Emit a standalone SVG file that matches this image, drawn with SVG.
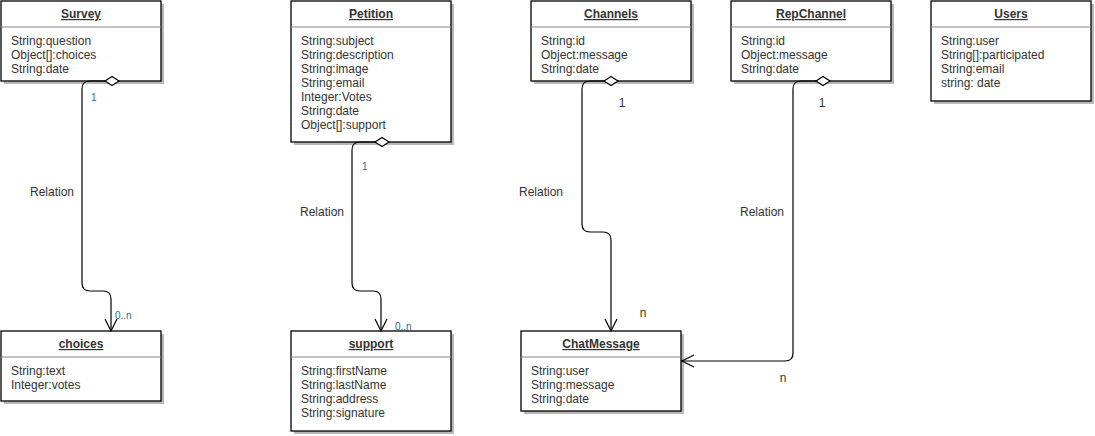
<svg xmlns="http://www.w3.org/2000/svg" width="1095" height="436" viewBox="0 0 1095 436">
<style>
.box{fill:#fff;stroke:#000;stroke-width:1.3}
.sh{fill:#b8b8b8}
.sep{stroke:#b0b0b0;stroke-width:1.5}
.title{font-family:"Liberation Sans",Arial,sans-serif;font-size:12px;font-weight:bold;fill:#333;text-anchor:middle;text-decoration:underline}
.attr{font-family:"Liberation Sans",Arial,sans-serif;font-size:12px;fill:#333}
.lbl{font-family:"Liberation Sans",Arial,sans-serif;font-size:12px;fill:#333;text-anchor:middle}
.mult{font-family:"Liberation Sans",Arial,sans-serif;font-size:10px;fill:#336699}
.edge{fill:none;stroke:#000;stroke-width:1.2}
.dia{fill:#fff;stroke:#000;stroke-width:1.2}
</style>
<rect width="1095" height="436" fill="#fff"/>

<g id="survey">
  <rect class="sh" x="4" y="4" width="160" height="80"/>
  <rect class="box" x="1" y="1" width="160" height="80"/>
  <line class="sep" x1="1.7" y1="27" x2="160.3" y2="27"/>
  <text class="title" x="81" y="18">Survey</text>
  <text class="attr" x="11" y="45">String:question</text>
  <text class="attr" x="11" y="59">Object[]:choices</text>
  <text class="attr" x="11" y="73">String:date</text>
</g>

<g id="petition">
  <rect class="sh" x="294" y="4" width="160" height="141"/>
  <rect class="box" x="291" y="1" width="160" height="141"/>
  <line class="sep" x1="291.7" y1="27" x2="450.3" y2="27"/>
  <text class="title" x="371" y="18">Petition</text>
  <text class="attr" x="301" y="45">String:subject</text>
  <text class="attr" x="301" y="59">String:description</text>
  <text class="attr" x="301" y="73">String:image</text>
  <text class="attr" x="301" y="87">String:email</text>
  <text class="attr" x="301" y="101">Integer:Votes</text>
  <text class="attr" x="301" y="115">String:date</text>
  <text class="attr" x="301" y="129">Object[]:support</text>
</g>

<g id="channels">
  <rect class="sh" x="534" y="4" width="160" height="80"/>
  <rect class="box" x="531" y="1" width="160" height="80"/>
  <line class="sep" x1="531.7" y1="27" x2="690.3" y2="27"/>
  <text class="title" x="611" y="18">Channels</text>
  <text class="attr" x="541" y="45">String:id</text>
  <text class="attr" x="541" y="59">Object:message</text>
  <text class="attr" x="541" y="73">String:date</text>
</g>

<g id="repchannel">
  <rect class="sh" x="734" y="4" width="160" height="80"/>
  <rect class="box" x="731" y="1" width="160" height="80"/>
  <line class="sep" x1="731.7" y1="27" x2="890.3" y2="27"/>
  <text class="title" x="811" y="18">RepChannel</text>
  <text class="attr" x="741" y="45">String:id</text>
  <text class="attr" x="741" y="59">Object:message</text>
  <text class="attr" x="741" y="73">String:date</text>
</g>

<g id="users">
  <rect class="sh" x="934" y="4" width="160" height="100"/>
  <rect class="box" x="931" y="1" width="160" height="100"/>
  <line class="sep" x1="931.7" y1="27" x2="1090.3" y2="27"/>
  <text class="title" x="1011" y="18">Users</text>
  <text class="attr" x="941" y="45">String:user</text>
  <text class="attr" x="941" y="59">String[]:participated</text>
  <text class="attr" x="941" y="73">String:email</text>
  <text class="attr" x="941" y="87">string: date</text>
</g>

<g id="choices">
  <rect class="sh" x="4" y="334" width="160" height="70"/>
  <rect class="box" x="1" y="331" width="160" height="70"/>
  <line class="sep" x1="1.7" y1="357" x2="160.3" y2="357"/>
  <text class="title" x="81" y="348">choices</text>
  <text class="attr" x="11" y="375">String:text</text>
  <text class="attr" x="11" y="389">Integer:votes</text>
</g>

<g id="support">
  <rect class="sh" x="294" y="334" width="160" height="100"/>
  <rect class="box" x="291" y="331" width="160" height="100"/>
  <line class="sep" x1="291.7" y1="357" x2="450.3" y2="357"/>
  <text class="title" x="371" y="348">support</text>
  <text class="attr" x="301" y="375">String:firstName</text>
  <text class="attr" x="301" y="389">String:lastName</text>
  <text class="attr" x="301" y="403">String:address</text>
  <text class="attr" x="301" y="417">String:signature</text>
</g>

<g id="chatmessage">
  <rect class="sh" x="524" y="334" width="160" height="80"/>
  <rect class="box" x="521" y="331" width="160" height="80"/>
  <line class="sep" x1="521.7" y1="357" x2="680.3" y2="357"/>
  <text class="title" x="601" y="348">ChatMessage</text>
  <text class="attr" x="531" y="375">String:user</text>
  <text class="attr" x="531" y="389">String:message</text>
  <text class="attr" x="531" y="403">String:date</text>
</g>

<g id="connectors">
  <path class="edge" d="M105,81 H90 Q82,81 82,89 V283 Q82,291 90,291 H103 Q111,291 111,299 V331"/>
  <path class="edge" d="M105,319 L111,331 L117,319"/>
  <polygon class="dia" points="105,81 112,76.5 119,81 112,85.5"/>

  <path class="edge" d="M375,142 H360 Q352,142 352,150 V283 Q352,291 360,291 H373 Q381,291 381,299 V331"/>
  <path class="edge" d="M375,319 L381,331 L387,319"/>
  <polygon class="dia" points="375,142 382,137.5 389,142 382,146.5"/>

  <path class="edge" d="M604,81 H590 Q582,81 582,89 V224 Q582,232 590,232 H603 Q611,232 611,240 V331"/>
  <path class="edge" d="M605,319 L611,331 L617,319"/>
  <polygon class="dia" points="604,81 611,76.5 618,81 611,85.5"/>

  <path class="edge" d="M816,81 H801 Q793,81 793,89 V353 Q793,361 785,361 H681"/>
  <path class="edge" d="M694,355 L682,361 L694,367"/>
  <polygon class="dia" points="816,81 823,76.5 830,81 823,85.5"/>

  <text class="mult" x="91" y="101">1</text>
  <text class="mult" x="115" y="319">0..n</text>
  <text class="lbl" x="52" y="196">Relation</text>

  <text class="mult" x="362" y="170">1</text>
  <text class="mult" x="395" y="330">0..n</text>
  <text class="lbl" x="322" y="216">Relation</text>

  <text class="lbl" x="622" y="107">1</text>
  <text class="lbl" x="643" y="317">n</text>
  <text class="lbl" x="541" y="196">Relation</text>

  <text class="lbl" x="822" y="107">1</text>
  <text class="lbl" x="783" y="382">n</text>
  <text class="lbl" x="762" y="216">Relation</text>
</g>
</svg>
